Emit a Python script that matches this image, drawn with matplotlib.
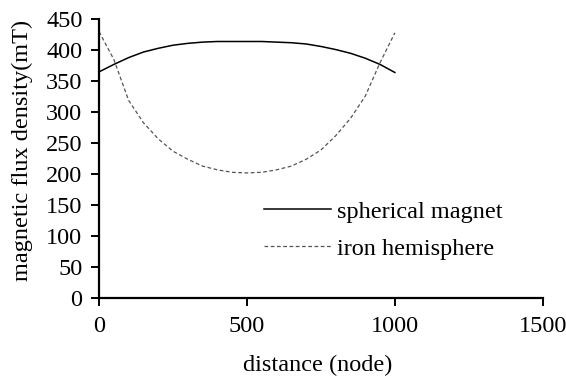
import matplotlib
matplotlib.use("Agg")
import matplotlib.pyplot as plt

plt.rcParams['font.family'] = ['Liberation Serif', 'DejaVu Serif']

# node positions along the measuring path
nodes = [0, 50, 100, 150, 200, 250, 300, 350, 400, 450, 500,
         550, 600, 650, 700, 750, 800, 850, 900, 950, 1000]

# flux density (mT)
spherical_magnet = [365, 377, 388, 397, 403, 408, 411, 413, 414, 414, 414,
                    414, 413, 412, 410, 406, 401, 395, 387, 377, 364]
iron_hemisphere = [430, 385, 319, 283, 257, 237, 224, 213, 207, 203, 202,
                   203, 207, 213, 224, 239, 262, 290, 326, 380, 428]

fs = 17.5

fig = plt.figure(figsize=(5.66, 3.76), dpi=100)
ax = fig.add_axes([0.175, 0.207, 0.784, 0.742])

ax.plot(nodes, spherical_magnet, color='black', lw=1.1, label='spherical magnet')
ax.plot(nodes, iron_hemisphere, color='#555555', lw=0.9, ls=(0, (3, 2)),
        label='iron hemisphere')

ax.set_xlim(0, 1500)
ax.set_ylim(0, 450)
ax.set_xticks([0, 500, 1000, 1500])
ax.set_yticks(range(0, 451, 50))

for side in ('top', 'right'):
    ax.spines[side].set_visible(False)
for side in ('left', 'bottom'):
    ax.spines[side].set_linewidth(1.6)
ax.tick_params(direction='out', length=6, width=1.4, labelsize=fs, pad=6)
ax.tick_params(axis='x', pad=7)

ax.set_xlabel('distance (node)', fontsize=fs)
ax.set_ylabel('magnetic flux density(mT)', fontsize=fs)
ax.xaxis.set_label_coords(0.492, -0.204)
ax.yaxis.set_label_coords(-0.149, 0.53)

ax.legend(loc='upper left', bbox_to_anchor=(0.372, 0.35), frameon=False,
          fontsize=fs, handlelength=2.75, handletextpad=0.25, labelspacing=0.62,
          borderaxespad=0, borderpad=0)

fig.savefig('out.png', dpi=100)
